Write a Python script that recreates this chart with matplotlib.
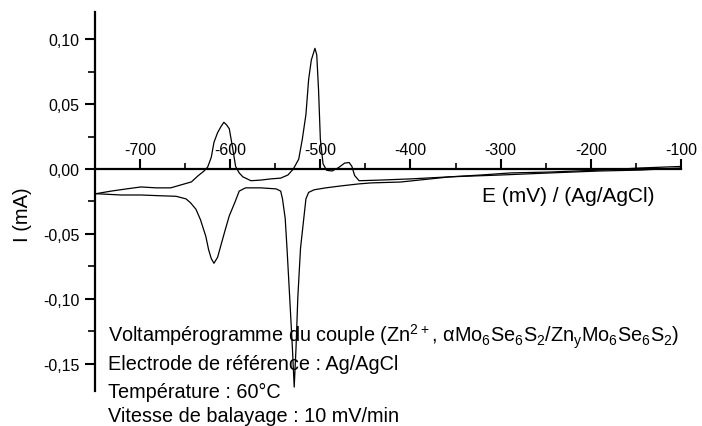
import matplotlib
matplotlib.use("Agg")
import matplotlib.pyplot as plt
from matplotlib.ticker import FixedLocator, FuncFormatter

plt.rcParams['font.family'] = ['Liberation Sans', 'DejaVu Sans']
plt.rcParams['mathtext.default'] = 'regular'
plt.rcParams['axes.unicode_minus'] = False

# aller (oxydation), de -750 vers -100 mV
E_aller = [-749, -732, -715, -699, -682, -666, -651, -643, -636, -629, -625, -621,
           -618, -614, -610, -607, -604, -601, -599, -597, -594, -590, -586, -577,
           -566, -555, -544, -536, -530, -524, -520, -516, -513, -510, -506, -504,
           -502, -500, -497, -493, -487, -480, -473, -468, -465, -462, -457, -433,
           -400, -356, -322, -289, -245, -190, -145, -100]
I_aller = [-0.019, -0.017, -0.0153, -0.0138, -0.0145, -0.0145, -0.0115, -0.0099,
           -0.0054, -0.0015, 0.0015, 0.009, 0.0206, 0.028, 0.033, 0.036, 0.034,
           0.031, 0.023, 0.015, 0.002, -0.003, -0.006, -0.009, -0.0085, -0.0076,
           -0.007, -0.0046, 0.0, 0.0076, 0.023, 0.042, 0.069, 0.084, 0.093, 0.088,
           0.061, 0.023, 0.004, -0.001, -0.0015, 0.001, 0.0046, 0.005, 0.002,
           -0.005, -0.009, -0.0085, -0.0076, -0.006, -0.0046, -0.003, -0.0023,
           -0.0008, 0.0008, 0.002]

# retour (reduction), de -100 vers -750 mV
E_retour = [-100, -145, -190, -245, -300, -356, -411, -444, -458, -477, -494, -507,
            -513, -516, -522, -525, -527, -529, -531, -534, -537, -539, -542, -544,
            -549, -566, -583, -590, -595, -601, -606, -610, -614, -618, -621, -624,
            -627, -633, -638, -644, -649, -660, -677, -699, -721, -749]
I_retour = [0.0008, -0.0008, -0.0015, -0.003, -0.0046, -0.006, -0.010, -0.0107,
            -0.0115, -0.013, -0.0145, -0.016, -0.018, -0.023, -0.061, -0.099,
            -0.138, -0.168, -0.138, -0.099, -0.061, -0.038, -0.023, -0.017,
            -0.0153, -0.0145, -0.0145, -0.017, -0.026, -0.036, -0.048, -0.058,
            -0.068, -0.0726, -0.069, -0.062, -0.052, -0.039, -0.031, -0.026,
            -0.023, -0.021, -0.0206, -0.020, -0.020, -0.019]

x_ticks = [-700, -600, -500, -400, -300, -200, -100]
x_minor = [-650, -550, -450, -350, -250, -150]
y_ticks = [-0.15, -0.10, -0.05, 0.00, 0.05, 0.10]
y_minor = [-0.125, -0.075, -0.025, 0.025, 0.075]

fig = plt.figure(figsize=(7.02, 4.27), dpi=100)
ax = fig.add_axes([0.1353, 0.082, 0.8347, 0.8876])

ax.plot(E_aller, I_aller, color='black', lw=0.9)
ax.plot(E_retour, I_retour, color='black', lw=0.9)

ax.set_xlim(-750, -100)
ax.set_ylim(-0.171, 0.121)

# axe des x au niveau I = 0, graduations et etiquettes au-dessus
ax.spines['bottom'].set_visible(False)
ax.spines['right'].set_visible(False)
ax.spines['top'].set_position(('data', 0))
ax.spines['top'].set_linewidth(1.6)
ax.spines['left'].set_linewidth(1.6)
ax.xaxis.tick_top()
ax.xaxis.set_major_locator(FixedLocator(x_ticks))
ax.xaxis.set_minor_locator(FixedLocator(x_minor))
ax.yaxis.set_major_locator(FixedLocator(y_ticks))
ax.yaxis.set_minor_locator(FixedLocator(y_minor))
ax.yaxis.set_major_formatter(FuncFormatter(lambda v, p: f"{v:.2f}".replace('.', ',')))

ax.tick_params(axis='x', which='major', direction='out', length=7, width=1.5,
               labelsize=11.5, pad=2)
ax.tick_params(axis='x', which='minor', direction='out', length=4, width=1.2)
ax.tick_params(axis='y', which='major', direction='out', length=7, width=1.5,
               labelsize=11.5, pad=4)
ax.tick_params(axis='y', which='minor', direction='out', length=5, width=1.2)

fig.text(568 / 702, 1 - 197 / 427, 'E (mV) / (Ag/AgCl)', fontsize=15,
         ha='center', va='center')
fig.text(23 / 702, 1 - 215 / 427, 'I (mA)', fontsize=14.5, rotation=90,
         ha='center', va='center')

lignes = [
    'Voltampérogramme du couple (Zn$^{2+}$, αMo$_6$Se$_6$S$_2$/Zn$_y$Mo$_6$Se$_6$S$_2$)',
    'Electrode de référence : Ag/AgCl',
    'Température : 60°C',
    'Vitesse de balayage : 10 mV/min',
]
for texte, py in zip(lignes, [337, 365, 392, 417]):
    fig.text(108 / 702, 1 - py / 427, texte, fontsize=14.3, ha='left', va='center')

fig.savefig('out.png', dpi=100)
